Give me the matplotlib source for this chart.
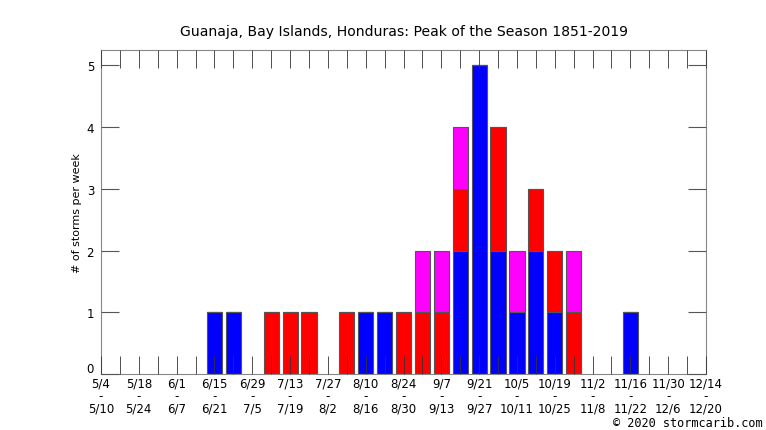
import matplotlib
matplotlib.use("Agg")
import matplotlib.pyplot as plt
import matplotlib.transforms as mtransforms
import numpy as np

# weekly bins starting 5/4, 33 weeks (index 0..32)
week_labels = ["5/4\n-\n5/10", "5/18\n-\n5/24", "6/1\n-\n6/7", "6/15\n-\n6/21",
               "6/29\n-\n7/5", "7/13\n-\n7/19", "7/27\n-\n8/2", "8/10\n-\n8/16",
               "8/24\n-\n8/30", "9/7\n-\n9/13", "9/21\n-\n9/27", "10/5\n-\n10/11",
               "10/19\n-\n10/25", "11/2\n-\n11/8", "11/16\n-\n11/22",
               "11/30\n-\n12/6", "12/14\n-\n12/20"]

weeks = [6, 7, 9, 10, 11, 13, 14, 15, 16, 17, 18, 19, 20, 21, 22, 23, 24, 25, 28]
blue = [1, 1, 0, 0, 0, 0, 1, 1, 0, 0, 0, 2, 5, 2, 1, 2, 1, 0, 1]
red = [0, 0, 1, 1, 1, 1, 0, 0, 1, 1, 1, 1, 0, 2, 0, 1, 1, 1, 0]
magenta = [0, 0, 0, 0, 0, 0, 0, 0, 0, 1, 1, 1, 0, 0, 1, 0, 0, 1, 0]

fig = plt.figure(figsize=(7.66, 4.31), dpi=100)
ax = fig.add_axes([101/766, 1-375/431, 605/766, 324/431])

b = np.array(blue)
r = np.array(red)
m = np.array(magenta)
ax.bar(weeks, b, width=0.8, color="#0000ff", edgecolor="#555555", linewidth=0.8)
ax.bar(weeks, r, width=0.8, bottom=b, color="#ff0000", edgecolor="#555555", linewidth=0.8)
ax.bar(weeks, m, width=0.8, bottom=b + r, color="#ff00ff", edgecolor="#555555", linewidth=0.8)

ax.set_xlim(0, 32)
ax.set_ylim(0, 5.25)
ax.set_xticks(np.arange(0, 33, 2))
ax.set_xticklabels(week_labels, fontsize=8.5, linespacing=0.93)
ax.set_xticks(np.arange(0, 33), minor=True)
ax.set_yticks(range(6))
ax.tick_params(axis="x", which="both", direction="in", length=13, top=True,
               color="#333333", width=0.6, pad=2)
ax.tick_params(axis="y", direction="in", length=13, right=True, color="#555555",
               width=0.8, labelsize=8.5, pad=5)
for t in ax.xaxis.get_ticklines(minor=True) + ax.xaxis.get_ticklines():
    t.set_zorder(5)
ax.set_axisbelow(False)
for s in ax.spines.values():
    s.set_color("#888888")
    s.set_linewidth(0.8)

# the "0" label sits a little above the axis line, as in the original
fig.canvas.draw()
zero = ax.yaxis.get_majorticklabels()[0]
zero.set_transform(zero.get_transform() +
                   mtransforms.ScaledTranslation(0, 5/72, fig.dpi_scale_trans))

ax.set_ylabel("# of storms per week", fontsize=8, labelpad=3)
ax.set_title("Guanaja, Bay Islands, Honduras: Peak of the Season 1851-2019",
             fontsize=10.1, pad=11)
fig.text(0.995, 0.002, "\u00a9 2020 stormcarib.com", ha="right", va="bottom",
         fontsize=8.6, family="DejaVu Sans Mono")

fig.savefig("out.png", dpi=100)
